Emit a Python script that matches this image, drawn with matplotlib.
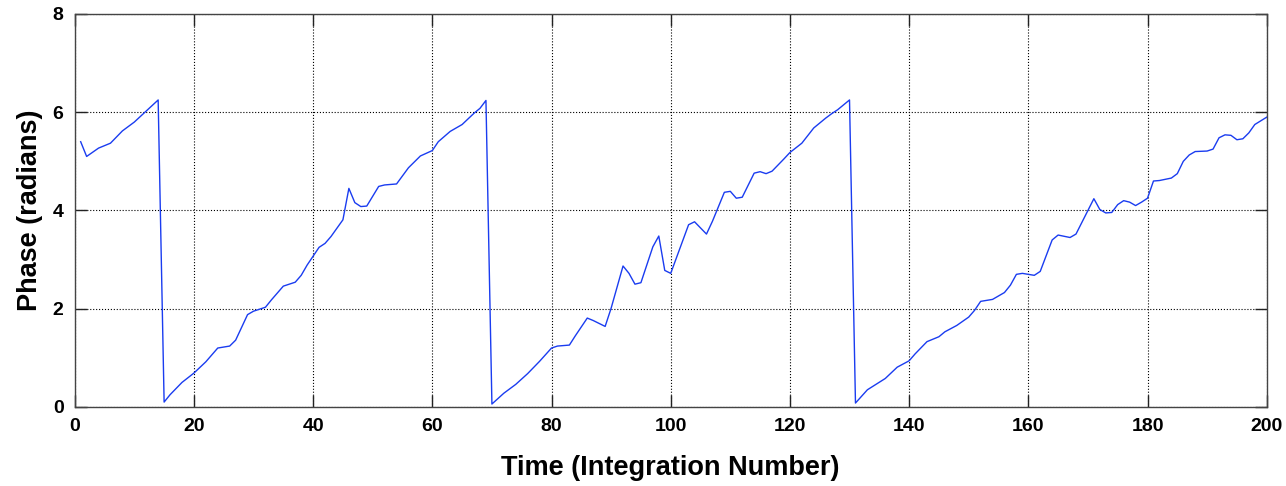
import numpy as np
import matplotlib
matplotlib.use('Agg')
import matplotlib.pyplot as plt

# phase values (integration number, radians)
t = [1, 2, 4, 6, 8, 10, 14, 15, 16, 18, 20, 22, 24, 26, 27, 29, 30, 32, 33, 35,
     37, 38, 39, 41, 42, 43, 45, 46, 47, 48, 49, 51, 52, 54, 56, 58, 60, 61, 63, 65,
     67, 68, 69, 70, 72, 74, 76, 78, 80, 81, 83, 84, 86, 87, 89, 90, 92, 93, 94, 95,
     97, 98, 99, 100, 101, 103, 104, 106, 107, 109, 110, 111, 112, 114, 115, 116, 117, 119, 120, 122,
     124, 126, 127, 128, 130, 131, 133, 136, 138, 140, 141, 143, 145, 146, 148, 150, 151, 152, 154, 156,
     157, 158, 159, 161, 162, 164, 165, 167, 168, 171, 172, 173, 174, 175, 176, 177, 178, 179, 180, 181,
     182, 184, 185, 186, 187, 188, 190, 191, 192, 193, 194, 195, 196, 197, 198, 200]
phase = [5.40, 5.10, 5.27, 5.37, 5.62, 5.80, 6.25, 0.10, 0.25, 0.50, 0.69, 0.92, 1.20, 1.24, 1.36, 1.88, 1.95, 2.03, 2.18, 2.46,
         2.54, 2.68, 2.89, 3.25, 3.33, 3.47, 3.81, 4.45, 4.16, 4.08, 4.09, 4.49, 4.52, 4.54, 4.87, 5.11, 5.22, 5.40, 5.61, 5.75,
         5.98, 6.08, 6.24, 0.06, 0.28, 0.46, 0.68, 0.93, 1.20, 1.24, 1.26, 1.45, 1.81, 1.76, 1.64, 2.01, 2.87, 2.72, 2.50, 2.53,
         3.26, 3.48, 2.78, 2.72, 3.05, 3.71, 3.77, 3.52, 3.78, 4.37, 4.39, 4.25, 4.27, 4.76, 4.79, 4.75, 4.80, 5.05, 5.18, 5.37,
         5.68, 5.88, 5.97, 6.05, 6.25, 0.08, 0.35, 0.58, 0.81, 0.94, 1.08, 1.33, 1.43, 1.53, 1.66, 1.83, 1.97, 2.15, 2.19, 2.33,
         2.48, 2.70, 2.72, 2.68, 2.76, 3.40, 3.50, 3.45, 3.52, 4.24, 4.02, 3.95, 3.96, 4.12, 4.20, 4.17, 4.10, 4.17, 4.25, 4.60,
         4.61, 4.66, 4.75, 5.00, 5.13, 5.20, 5.21, 5.25, 5.48, 5.54, 5.53, 5.44, 5.46, 5.58, 5.75, 5.90]

xticks = list(range(0, 201, 20))
yticks = [0, 2, 4, 6, 8]

plt.rcParams['font.family'] = ['Liberation Sans Narrow', 'Liberation Sans', 'DejaVu Sans']

fig = plt.figure(figsize=(12.86, 4.86), dpi=100)
ax = fig.add_axes([0.0581, 0.1626, 0.9269, 0.8086])

ax.plot(t, phase, color='#1a3cf0', lw=1.0)

ax.set_xlim(0, 200)
ax.set_ylim(0, 8)
ax.set_xticks(xticks)
ax.set_yticks(yticks)
ax.grid(True, color='black', linestyle=':', linewidth=0.8)
ax.tick_params(direction='in', length=8.5, width=1, top=True, right=True,
               labelsize=14, pad=8, colors='#222222')
for lab in ax.get_xticklabels() + ax.get_yticklabels():
    lab.set_fontweight('bold')
    lab.set_color('black')
for sp in ax.spines.values():
    sp.set_color('#444444')
    sp.set_linewidth(1.0)

ax.set_xlabel('Time (Integration Number)', fontsize=19.5, fontweight='bold', labelpad=14)
ax.set_ylabel('Phase (radians)', fontsize=19.5, fontweight='bold', labelpad=7)

plt.savefig('out.png', dpi=100)
